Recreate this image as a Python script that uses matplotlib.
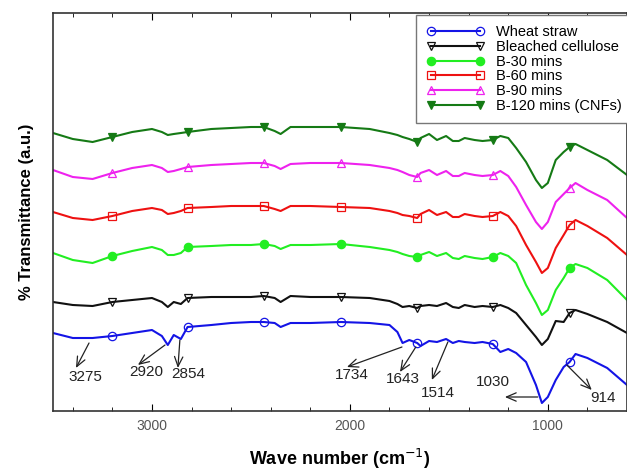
import matplotlib.pyplot as plt
import numpy as np

plt.rcParams['font.family'] = ['Liberation Sans', 'DejaVu Sans']

# FTIR spectra (stacked, arbitrary transmittance units)
wavenumber = [3500, 3400, 3300, 3200, 3100, 3000, 2950, 2920, 2890, 2854,
              2820, 2700, 2600, 2500, 2435, 2380, 2350, 2300, 2200, 2045,
              1900, 1800, 1760, 1734, 1700, 1660, 1643, 1600, 1560, 1514,
              1480, 1450, 1420, 1370, 1330, 1278, 1240, 1200, 1160, 1110,
              1060, 1030, 1000, 960, 920, 890, 860, 800, 700, 600]

wheat_straw = [78, 73, 73, 75, 78, 81, 75, 66, 76, 72,
               84, 86, 88, 89, 89, 88, 84, 88, 88, 89,
               88, 86, 79, 68, 71, 68, 65, 70, 69, 72,
               68, 70, 69, 68, 69, 67, 59, 62, 58, 49,
               26, 8, 14, 31, 44, 49, 57, 53, 43, 26]

bleached = [109, 106, 105, 109, 111, 113, 109, 104, 109, 107,
            113, 114, 114, 114, 115, 113, 109, 115, 114, 114,
            113, 110, 107, 104, 105, 103, 105, 106, 105, 108,
            104, 103, 106, 104, 105, 104, 106, 103, 98, 86,
            74, 66, 72, 90, 89, 98, 101, 97, 89, 78]

b30 = [158, 151, 148, 155, 160, 164, 161, 156, 156, 158,
       164, 165, 166, 166, 167, 165, 162, 166, 166, 167,
       164, 161, 159, 157, 155, 154, 156, 159, 155, 158,
       153, 152, 155, 153, 152, 154, 158, 155, 148, 126,
       108, 96, 101, 121, 133, 143, 147, 143, 131, 111]

b60 = [199, 193, 191, 195, 200, 203, 201, 197, 198, 200,
       203, 204, 205, 205, 205, 202, 200, 205, 205, 204,
       203, 200, 198, 196, 195, 193, 197, 201, 196, 199,
       194, 194, 197, 195, 194, 195, 199, 195, 185, 166,
       149, 138, 143, 163, 176, 186, 191, 185, 173, 156]

b90 = [241, 234, 232, 238, 243, 246, 243, 239, 240, 242,
       244, 246, 247, 248, 248, 245, 242, 247, 248, 248,
       246, 243, 241, 239, 236, 234, 238, 241, 236, 240,
       235, 235, 238, 236, 235, 236, 240, 235, 224, 206,
       189, 182, 189, 209, 217, 223, 228, 221, 211, 193]

b120 = [278, 272, 269, 274, 279, 282, 279, 276, 277, 278,
        279, 282, 283, 284, 284, 280, 277, 284, 284, 284,
        282, 278, 276, 274, 272, 269, 273, 277, 271, 275,
        270, 270, 273, 271, 270, 271, 275, 273, 263, 249,
        231, 223, 228, 251, 259, 264, 267, 261, 251, 236]

labels = ["Wheat straw", "Bleached cellulose", "B-30 mins", "B-60 mins",
          "B-90 mins", "B-120 mins (CNFs)"]
series = [wheat_straw, bleached, b30, b60, b90, b120]
colors = ['#1414e6', '#111111', '#22ee22', '#ee1111', '#ee22ee', '#157a15']
markers = ['o', 'v', 'o', 's', '^', 'v']
filled = [False, False, True, False, False, True]
mark_idx = [3, 10, 14, 19, 25, 35, 45]

# peak labels: text, arrow start, arrow head, text position (wavenumber, a.u.)
peaks = [
    ("3275", (3318, 68), (3384, 43), (3338, 34)),
    ("2920", (2934, 66), (3071, 46), (3030, 39)),
    ("2854", (2859, 71), (2869, 43), (2818, 37)),
    ("1734", (1737, 64), (2015, 44), (1990, 36)),
    ("1643", (1667, 64), (1747, 39), (1732, 32)),
    ("1514", (1505, 69), (1586, 31), (1556, 18)),
    ("1030", (1051, 14), (1217, 14), (1278, 29)),
    ("914", (904, 46), (778, 21), (722, 13)),
]

fig = plt.figure(figsize=(6.27, 4.74), dpi=100)
ax = fig.add_axes([53 / 627, 1 - 411 / 474, 1 - 53 / 627, 398 / 474])

for y, lab, c, m, f in zip(series, labels, colors, markers, filled):
    ax.plot(wavenumber, y, color=c, lw=1.5, marker=m, markevery=mark_idx,
            markersize=6, markerfacecolor=c if f else 'none',
            markeredgecolor=c, markeredgewidth=0.9, label=lab)

for txt, start, head, pos in peaks:
    ax.annotate('', xy=head, xytext=start,
                arrowprops=dict(arrowstyle='->,head_length=0.7,head_width=0.3',
                                color='#222222', lw=0.9, shrinkA=0, shrinkB=0))
    ax.text(pos[0], pos[1], txt, ha='center', va='center', fontsize=11,
            color='#222222')

ax.set_xlim(3500, 600)
ax.set_ylim(0, 398)
ax.set_xticks([3000, 2000, 1000])
ax.set_xticks(np.arange(3400, 599, -200), minor=True)
ax.set_yticks([])
ax.tick_params(axis='x', which='both', direction='in', top=True,
               labelsize=10, labelcolor='#555555', pad=6)
ax.tick_params(axis='x', which='major', length=5)
ax.tick_params(axis='x', which='minor', length=3)
for s in ax.spines.values():
    s.set_linewidth(1.2)
    s.set_color('#333333')

ax.set_xlabel("Wave number (cm$^{-1}$)", fontsize=13, fontweight='bold',
              labelpad=10)
ax.set_ylabel("% Transmittance (a.u.)", fontsize=12, fontweight='bold',
              labelpad=14)

leg = ax.legend(loc='upper left', bbox_to_anchor=(416 / 627, 1 - 15 / 474),
                bbox_transform=fig.transFigure, fontsize=10.5, numpoints=2,
                handlelength=4, fancybox=False, framealpha=1,
                edgecolor='#777777', borderpad=0.7, labelspacing=0.05,
                handletextpad=0.8, borderaxespad=0)
leg.get_frame().set_linewidth(1.0)

fig.savefig("out.png", dpi=100)
